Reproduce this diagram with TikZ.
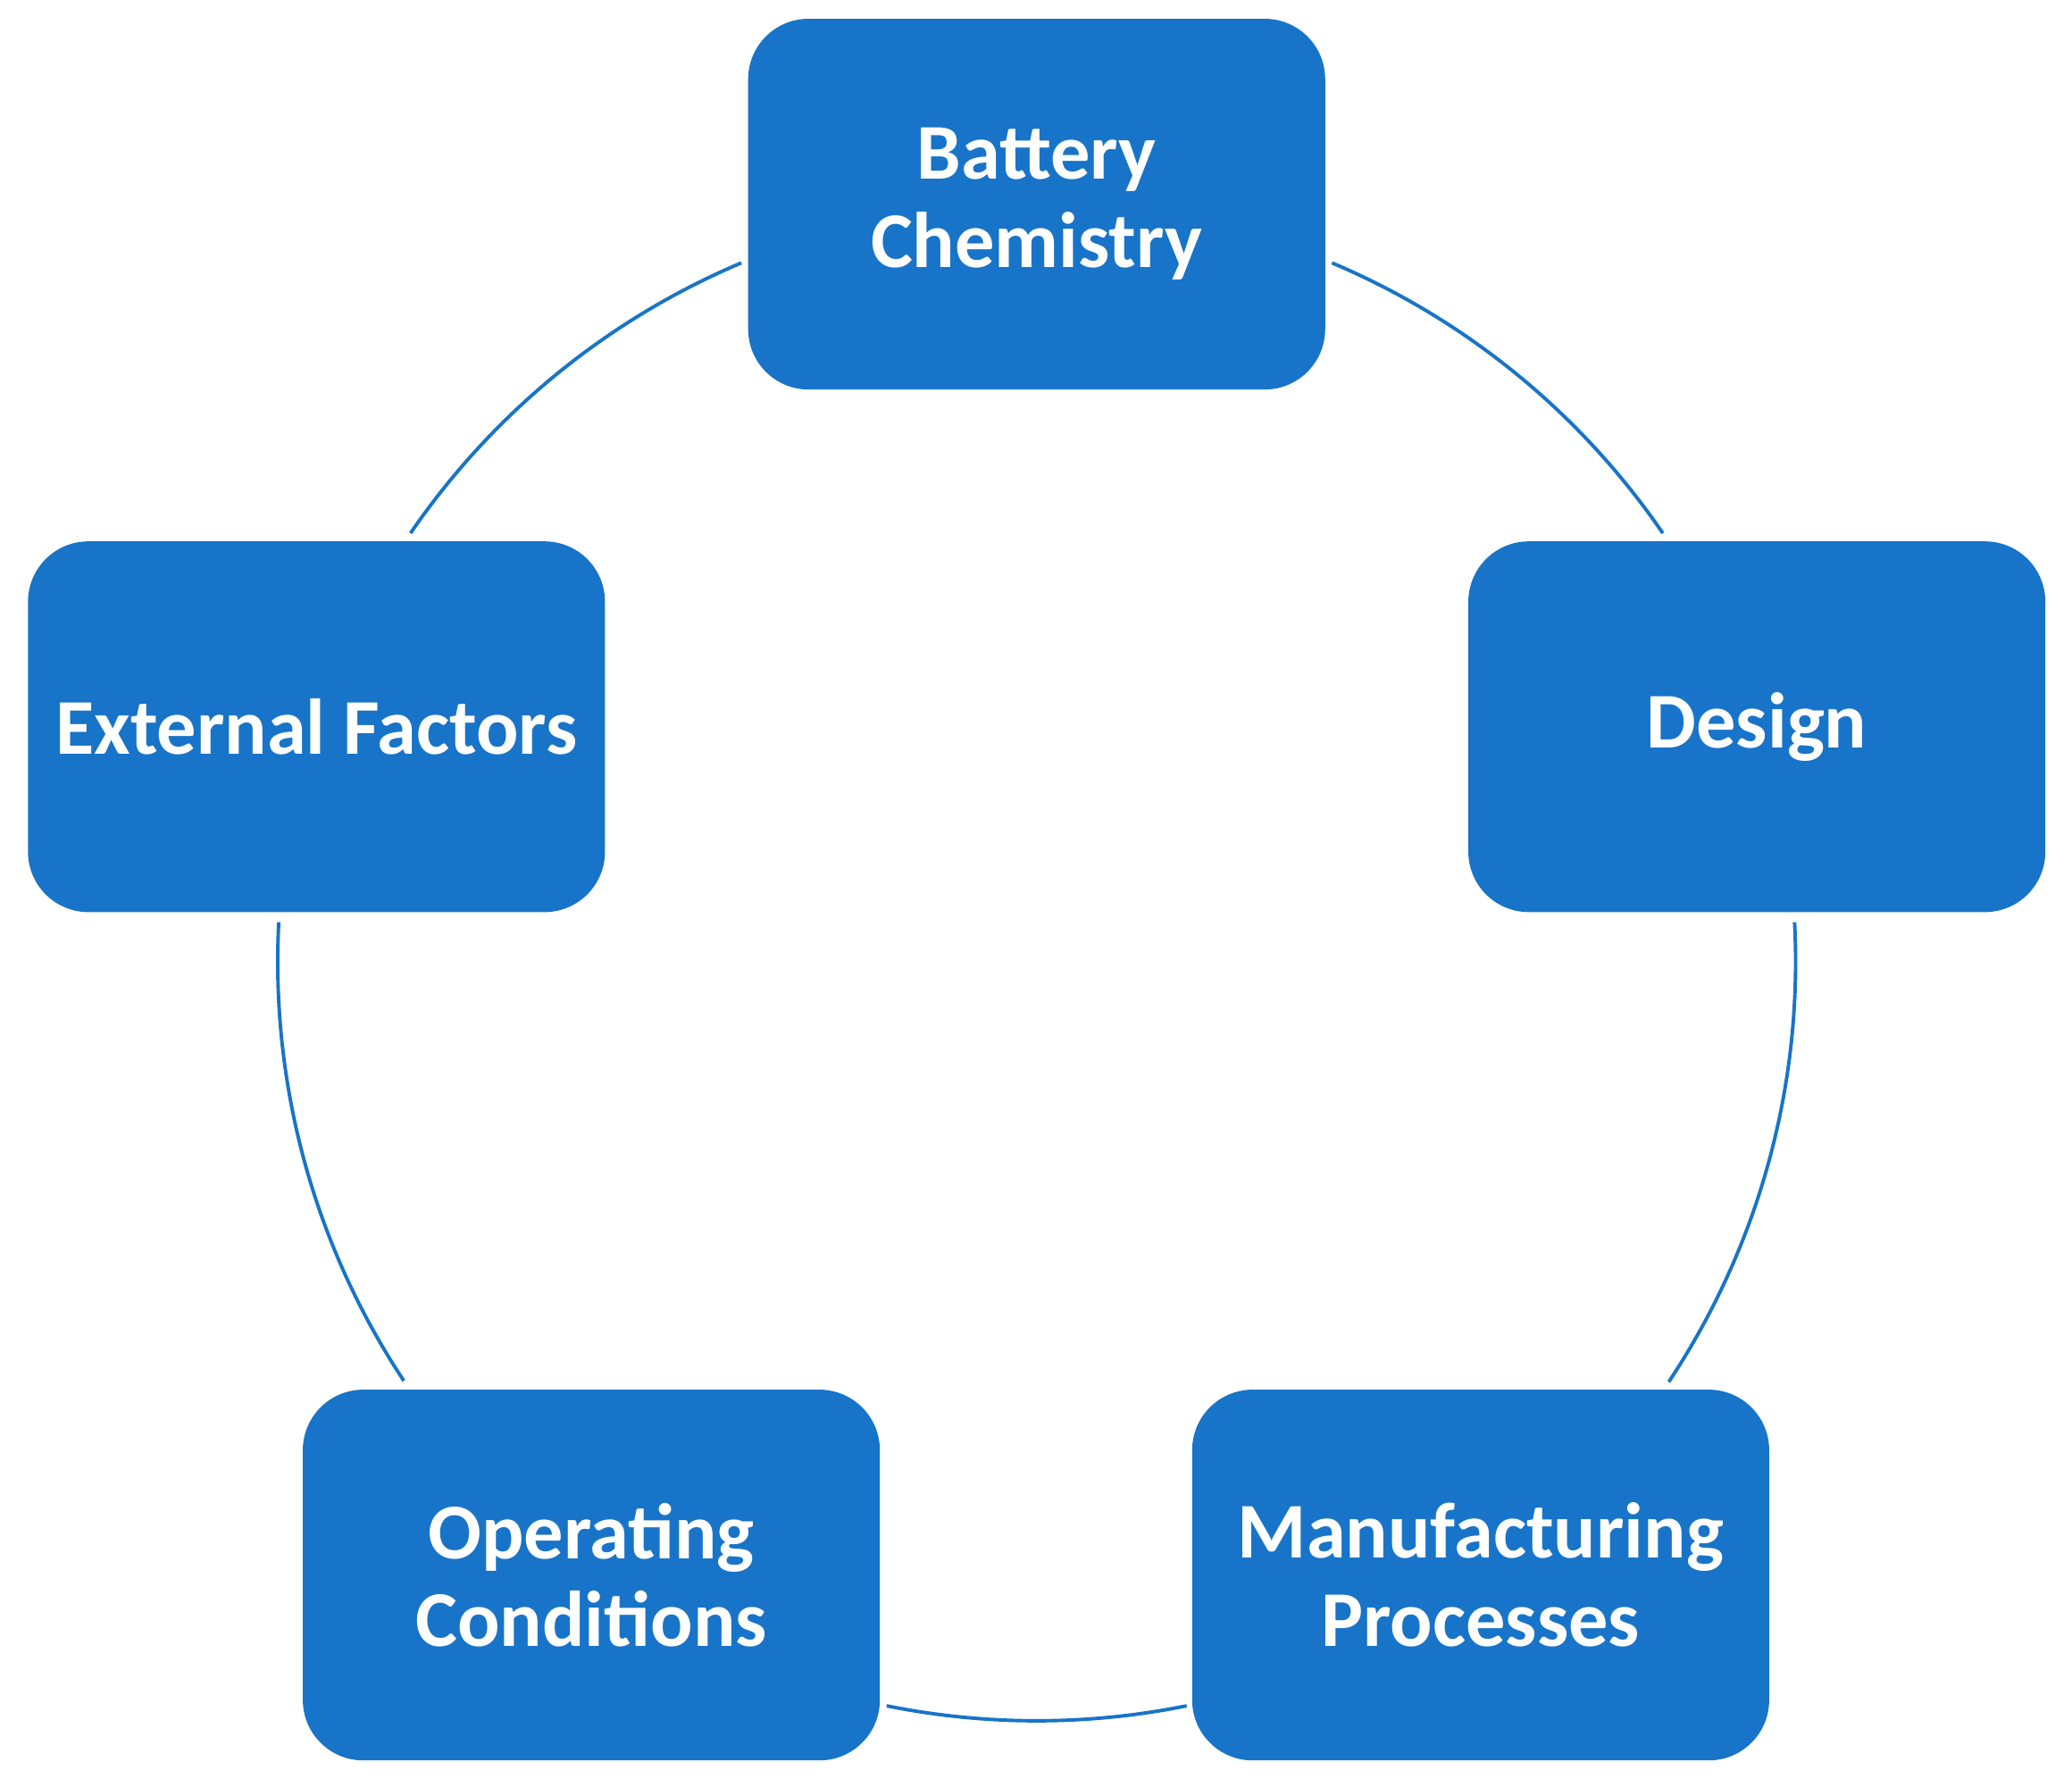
\documentclass[tikz,border=0pt]{standalone}
\usepackage{fontspec}
\setmainfont{Carlito}
\definecolor{boxblue}{HTML}{1874C8}
\begin{document}
\begin{tikzpicture}[x=0.01cm,y=-0.01cm,
  box/.style={fill=boxblue,draw=boxblue,rounded corners=0.45cm,minimum width=4.35cm,minimum height=2.79cm,
    text=white,font=\fontsize{17}{19}\selectfont\bfseries,align=center,inner sep=0pt},
  ring/.style={draw=boxblue,line width=0.75pt}]
\useasboundingbox (0,0) rectangle (1568,1352);
\coordinate (c) at (784.5,728);
\node[box] (bc) at (784.5,154.5) {Battery\\Chemistry};
\node[box] (de) at (1329.5,550) {Design};
\node[box] (ef) at (239.5,550) {External Factors};
\node[box] (oc) at (447.5,1192) {Operating\\Conditions};
\node[box] (mp) at (1120.5,1192) {Manufacturing\\Processes};
\draw[ring] ([shift={(67.1:5.74cm)}]c) arc[start angle=67.1,end angle=34.4,radius=5.74cm];
\draw[ring] ([shift={(3.0:5.74cm)}]c) arc[start angle=3.0,end angle=-33.6,radius=5.74cm];
\draw[ring] ([shift={(-78.6:5.74cm)}]c) arc[start angle=-78.6,end angle=-101.4,radius=5.74cm];
\draw[ring] ([shift={(-146.5:5.74cm)}]c) arc[start angle=-146.5,end angle=-183,radius=5.74cm];
\draw[ring] ([shift={(145.6:5.74cm)}]c) arc[start angle=145.6,end angle=112.9,radius=5.74cm];
\end{tikzpicture}
\end{document}
